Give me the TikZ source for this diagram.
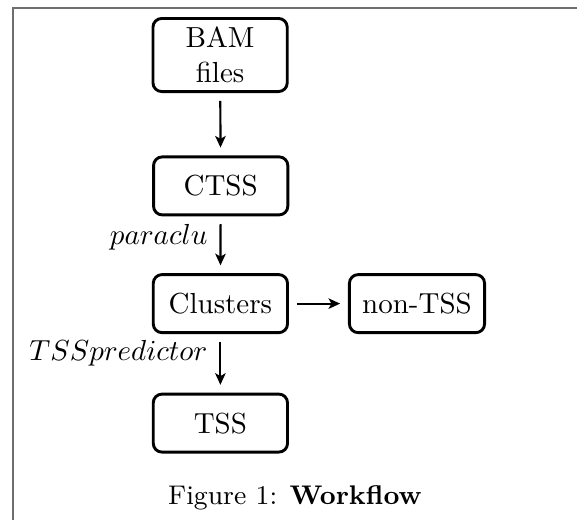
\documentclass[tikz,border=0pt]{standalone}
\usetikzlibrary{arrows.meta}
\definecolor{framegray}{RGB}{110,110,110}
\tikzset{
  procbox/.style={draw, line width=1pt, rounded corners=3pt, minimum width=46.3pt, minimum height=20pt, align=center, inner sep=2pt},
  flow/.style={line width=0.75pt, -{Stealth[length=4pt,width=3.6pt,inset=1pt]}, shorten <=2.7pt, shorten >=2.7pt},
  edgelabel/.style={anchor=base east, inner sep=3.33pt, xshift=-0.8pt},
  framerule/.style={draw=framegray, line width=0.7pt},
  captext/.style={anchor=base, inner sep=0pt, font=\fontsize{9.3pt}{11pt}\selectfont}
}
\begin{document}
\begin{tikzpicture}[x=1pt,y=1pt]
\useasboundingbox (0,0) rectangle (198.97,-179.31);
% frame (partial)
\coordinate (ftl) at (4.48,-2.65);
\coordinate (ftr) at (199,-2.65);
\coordinate (fbl) at (4.48,-179.31);
\draw[framerule] (ftr) -- (ftl) -- (fbl);
% nodes
\node[procbox, minimum height=25.2pt] (bam) at (75.9,-18.97) {BAM\\files};
\node[procbox] (ctss) at (76.1,-64.1) {CTSS};
\node[procbox] (clu) at (76.0,-104.7) {Clusters};
\node[procbox, minimum width=46.6pt] (non) at (143.8,-104.7) {non-TSS};
\node[procbox] (tss) at (76.0,-145.9) {TSS};
% connectors
\draw[flow] (bam) -- (ctss);
\draw[flow] (ctss) -- node[edgelabel, pos=0.5] {$paraclu$} (clu);
\draw[flow] (clu) -- (non);
\draw[flow] (clu) -- node[edgelabel, pos=0.45] {$TSSpredictor$} (tss);
% caption
\node[captext] (cap) at (101.7,-173.8) {Figure 1: \textbf{Workflow}};
\end{tikzpicture}
\end{document}
